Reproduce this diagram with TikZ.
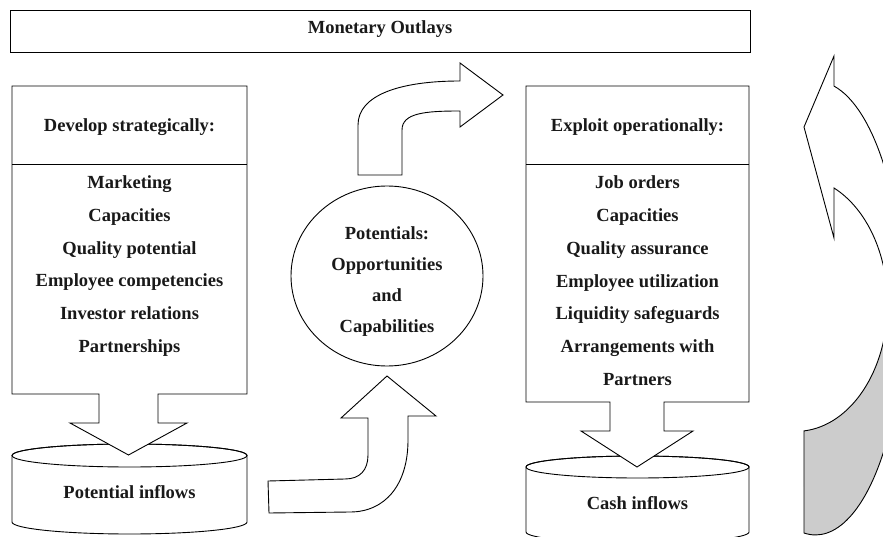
\documentclass[tikz,border=0pt]{standalone}
\usepackage{fontspec}
\setmainfont{Liberation Serif}
\usetikzlibrary{shapes.geometric}
\begin{document}
\begin{tikzpicture}[x=1pt,y=-1pt, line width=0.9pt,
  blockshape/.style={draw=black, fill=white},
  lbl/.style={font=\fontsize{18.5}{22}\selectfont\bfseries, text=black!90, inner sep=0pt, anchor=base},
]
\useasboundingbox (0,0) rectangle (883,537);
\clip (0,0) rectangle (883,537);

% Monetary outlays
\node[draw, minimum width=740pt, minimum height=42pt, inner sep=0pt] (mo) at (380,31) {};
\node[lbl] (motext) at (380,34) {Monetary Outlays};

% left cylinder
\draw[blockshape] (12,455.5) -- (12,522) arc[start angle=180, end angle=360, x radius=117.5pt, y radius=12pt]
  -- (247,455.5) arc[start angle=0, end angle=180, x radius=117.5pt, y radius=11.5pt] -- cycle;
\draw (129.5,455.5) ellipse [x radius=117.5pt, y radius=11.5pt];
\node[lbl] (potin) at (129.5,498) {Potential inflows};

% left box with down arrow
\draw[blockshape] (12,86) -- (247,86) -- (247,394) -- (158,394) -- (158,423) -- (187,423) -- (128.5,455)
  -- (70,423) -- (99,423) -- (99,394) -- (12,394) -- cycle;
\draw (12,164) -- (247,164);
\node[lbl] (dev) at (129.5,132) {Develop strategically:};
\foreach \t [count=\i] in {Marketing, Capacities, Quality potential, Employee competencies, Investor relations, Partnerships}
  \node[lbl] (dl\i) at (129.5,{189+(\i-1)*32.6}) {\t};

% right cylinder
\draw[blockshape] (526,467) -- (526,532) arc[start angle=180, end angle=360, x radius=111.5pt, y radius=11pt]
  -- (749,467) arc[start angle=0, end angle=180, x radius=111.5pt, y radius=11pt] -- cycle;
\draw (637.5,467) ellipse [x radius=111.5pt, y radius=11pt];
\node[lbl] (cashin) at (637.5,509) {Cash inflows};

% right box with down arrow
\draw[blockshape] (526,86) -- (749,86) -- (749,402) -- (664,402) -- (664,431) -- (693,431) -- (637,467)
  -- (581,431) -- (610,431) -- (610,402) -- (526,402) -- cycle;
\draw (526,164) -- (749,164);
\node[lbl] (expl) at (637.5,132) {Exploit operationally:};
\foreach \t [count=\i] in {Job orders, Capacities, Quality assurance, Employee utilization, Liquidity safeguards, Arrangements with, Partners}
  \node[lbl] (rl\i) at (637.5,{189+(\i-1)*32.7}) {\t};

% potentials ellipse
\node[draw, ellipse, minimum width=192pt, minimum height=180pt, inner sep=0pt] (pot) at (387,276) {};
\foreach \t [count=\i] in {Potentials:, Opportunities, and, Capabilities}
  \node[lbl] (pt\i) at (387,{240+(\i-1)*30.7}) {\t};

% upper bent arrow
\draw[blockshape] (358,175) -- (358,125) .. controls (358,95) and (400,81) .. (460,81) -- (460,63) -- (503,95)
  -- (460,127) -- (460,111) .. controls (425,111) and (402,113) .. (402,130) -- (402,175) -- cycle;

% lower bent arrow
\draw[blockshape] (268,481) -- (345,479) .. controls (360,479) and (368,470) .. (368,455) -- (368,418)
  -- (341,418) -- (387,376) -- (436,416) -- (408,416) -- (408,440) .. controls (408,485) and (385,512) .. (350,512)
  -- (269,513) -- cycle;

% right curved arrow
\draw[fill=gray!40] (804,533) arc[start angle=262.5, end angle=360, x radius=88pt, y radius=227pt]
  -- (887.5,304) arc[start angle=0, end angle=-85, x radius=91.5pt, y radius=127.4pt] -- cycle;
\draw[blockshape] (834,56) -- (804,127) -- (834,238) -- (834,188)
  arc[start angle=65.5, end angle=0, x radius=91.5pt, y radius=127.4pt] -- (903.5,308)
  arc[start angle=0, end angle=77.9, x radius=88pt, y radius=227pt] -- cycle;
\end{tikzpicture}
\end{document}
